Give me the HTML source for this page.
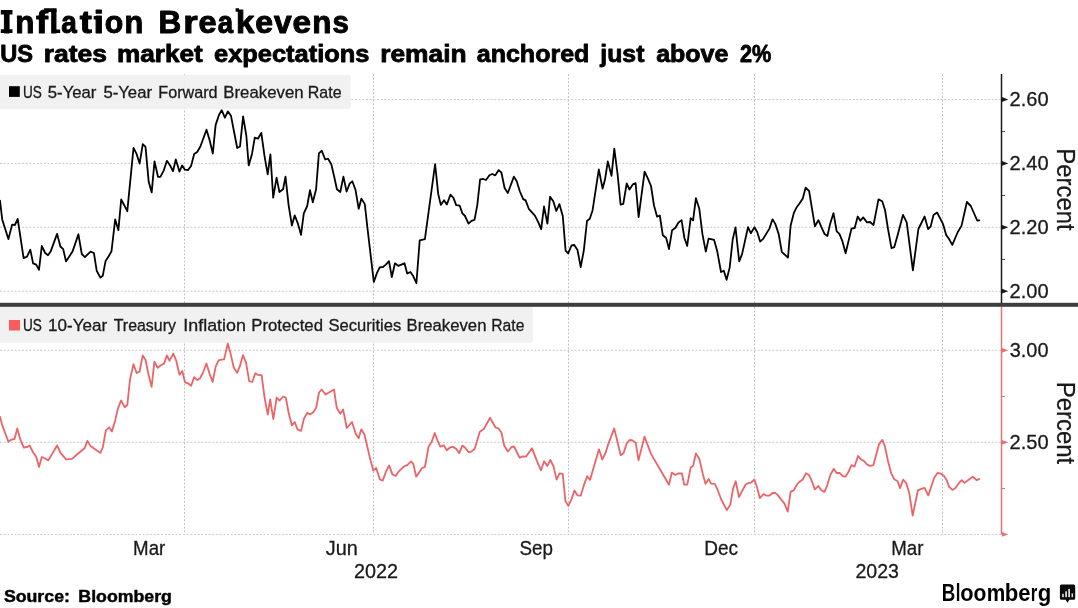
<!DOCTYPE html>
<html><head><meta charset="utf-8">
<style>
html,body{margin:0;padding:0;background:#fff;}
body{width:1078px;height:608px;overflow:hidden;position:relative;font-family:"Liberation Sans",sans-serif;color:#000;}
svg{position:absolute;left:0;top:0;opacity:0.999;will-change:opacity;}
text{font-family:"Liberation Sans",sans-serif;}
</style></head>
<body>
<svg width="1078" height="608" viewBox="0 0 1078 608">
<!-- gridlines -->
<g stroke-width="1" fill="none">
<path stroke="#bfbfbf" stroke-dasharray="1.9 1.76" d="M184.5 74V303M373.5 74V303M568.5 74V303M754.5 74V303M942.5 74V303"/>
<path stroke="#bfbfbf" stroke-dasharray="1.9 1.76" d="M184.5 307V534M373.5 307V534M568.5 307V534M754.5 307V534M942.5 307V534"/>
<path stroke="#c9c9c9" stroke-dasharray="2 1.66" d="M0 99.5H1001M0 163.4H1001M0 227.3H1001M0 291.2H1001"/>
<path stroke="#c9c9c9" stroke-dasharray="2 1.66" d="M0 350.3H1001M0 442.3H1001M0 534.4H1001"/>
</g>
<!-- legends -->
<rect x="-4" y="74.8" width="354.8" height="34.3" rx="3" fill="#f0f0f0" fill-opacity="0.92"/>
<rect x="9" y="86.2" width="10.8" height="10.7" fill="#000"/>
<rect x="-4" y="306" width="536.8" height="36.8" rx="3" fill="#f0f0f0" fill-opacity="0.92"/>
<rect x="9" y="320" width="11" height="10.5" fill="#f85c5c"/>
<!-- separator -->
<rect x="0" y="302.8" width="1078" height="4" fill="#3e3e3e"/>
<!-- top axis -->
<g stroke="#1a1a1a" fill="#1a1a1a">
<path d="M1001.5 74V303" stroke-width="1.5" fill="none"/>
<path d="M1002 131.6H1005M1002 195.5H1005M1002 259.4H1005" stroke-width="1" stroke="#444" fill="none"/>
<path d="M1002 97.10L1008.3 99.50L1002 101.90ZM1002 161.00L1008.3 163.40L1002 165.80ZM1002 224.90L1008.3 227.30L1002 229.70ZM1002 288.80L1008.3 291.20L1002 293.60Z" stroke="none"/>
</g>
<!-- bottom axis -->
<g stroke="#e6717a" fill="#e6717a">
<path d="M1001.5 307V534.5" stroke-width="1.5" fill="none"/>
<path d="M1002 396.5H1005M1002 488.5H1005" stroke-width="1" fill="none"/>
<path d="M1002 347.90L1008.3 350.30L1002 352.70ZM1002 439.90L1008.3 442.30L1002 444.70ZM1002 532.00L1008.3 534.40L1002 536.80Z" stroke="none"/>
</g>
<!-- TEXT -->
<g id="title" stroke="#000" stroke-width="1.0" stroke-linejoin="round">
<text transform="translate(2.32,32.70) scale(1.0088,1)" font-size="32" font-weight="bold" fill="#000">I</text>
<text transform="translate(15.16,32.70) scale(0.9794,1)" font-size="32" font-weight="bold" fill="#000">n</text>
<text transform="translate(36.07,32.70) scale(1.1220,1)" font-size="32" font-weight="bold" fill="#000">f</text>
<text transform="translate(49.61,32.70) scale(0.9773,1)" font-size="32" font-weight="bold" fill="#000">l</text>
<text transform="translate(61.26,32.70) scale(0.8744,1)" font-size="32" font-weight="bold" fill="#000">a</text>
<text transform="translate(79.84,32.70) scale(1.1382,1)" font-size="32" font-weight="bold" fill="#000">t</text>
<text transform="translate(93.45,32.70) scale(1.1818,1)" font-size="32" font-weight="bold" fill="#000">i</text>
<text transform="translate(104.69,32.70) scale(0.9448,1)" font-size="32" font-weight="bold" fill="#000">o</text>
<text transform="translate(124.60,32.70) scale(0.9601,1)" font-size="32" font-weight="bold" fill="#000">n</text>
<text transform="translate(158.38,32.70) scale(0.9836,1)" font-size="32" font-weight="bold" fill="#000">B</text>
<text transform="translate(183.29,32.70) scale(1.1593,1)" font-size="32" font-weight="bold" fill="#000">r</text>
<text transform="translate(198.50,32.70) scale(1.0168,1)" font-size="32" font-weight="bold" fill="#000">e</text>
<text transform="translate(217.87,32.70) scale(0.8627,1)" font-size="32" font-weight="bold" fill="#000">a</text>
<text transform="translate(235.99,32.70) scale(1.0321,1)" font-size="32" font-weight="bold" fill="#000">k</text>
<text transform="translate(255.22,32.70) scale(1.0039,1)" font-size="32" font-weight="bold" fill="#000">e</text>
<text transform="translate(273.94,32.70) scale(0.9932,1)" font-size="32" font-weight="bold" fill="#000">v</text>
<text transform="translate(292.47,32.70) scale(1.0427,1)" font-size="32" font-weight="bold" fill="#000">e</text>
<text transform="translate(312.26,32.70) scale(0.9794,1)" font-size="32" font-weight="bold" fill="#000">n</text>
<text transform="translate(332.57,32.70) scale(0.9180,1)" font-size="32" font-weight="bold" fill="#000">s</text>
</g>
<path id="titlex" fill="#000" d="M0.8 10H12.5V14.5H0.8ZM0.8 29.3H12.5V33H0.8Z M44 8.3H56.6V12H44Z M56 29.6H60.2V33H53Z M93.7 16H97V19.6H93.7Z M235.6 8.3H239V11.8H235.6Z"/>
<g id="subtitle" stroke="#000" stroke-width="0.8" stroke-linejoin="round">
<text transform="translate(0.28,61.70) scale(1.0061,1)" font-size="23.5" font-weight="bold" fill="#000">US</text>
<text transform="translate(43.78,61.70) scale(1.1267,1)" font-size="23.5" font-weight="bold" fill="#000">rates</text>
<text transform="translate(116.90,61.70) scale(1.1148,1)" font-size="23.5" font-weight="bold" fill="#000">market</text>
<text transform="translate(213.98,61.70) scale(1.0828,1)" font-size="23.5" font-weight="bold" fill="#000">expectations</text>
<text transform="translate(380.19,61.70) scale(1.1217,1)" font-size="23.5" font-weight="bold" fill="#000">remain</text>
<text transform="translate(476.75,61.70) scale(1.0646,1)" font-size="23.5" font-weight="bold" fill="#000">anchored</text>
<text transform="translate(600.37,61.70) scale(1.0543,1)" font-size="23.5" font-weight="bold" fill="#000">just</text>
<text transform="translate(656.15,61.70) scale(1.0625,1)" font-size="23.5" font-weight="bold" fill="#000">above</text>
<text transform="translate(740.04,61.70) scale(0.9234,1)" font-size="23.5" font-weight="bold" fill="#000">2%</text>
</g>
<g id="leg1" stroke="#1a1a1a" stroke-width="0.3">
<text transform="translate(22.90,97.80) scale(0.8346,1)" font-size="16.2909" fill="#1a1a1a">US</text>
<text transform="translate(47.78,97.80) scale(1.0277,1)" font-size="16.2909" fill="#1a1a1a">5-Year</text>
<text transform="translate(103.38,97.80) scale(1.0277,1)" font-size="16.2909" fill="#1a1a1a">5-Year</text>
<text transform="translate(158.32,97.80) scale(0.9933,1)" font-size="16.2909" fill="#1a1a1a">Forward</text>
<text transform="translate(223.26,97.80) scale(1.0322,1)" font-size="16.2909" fill="#1a1a1a">Breakeven</text>
<text transform="translate(307.73,97.80) scale(0.9834,1)" font-size="16.2909" fill="#1a1a1a">Rate</text>
</g><g id="leg2" stroke="#1a1a1a" stroke-width="0.3">
<text transform="translate(22.90,331.20) scale(0.8346,1)" font-size="16.2909" fill="#1a1a1a">US</text>
<text transform="translate(48.07,331.20) scale(1.0458,1)" font-size="16.2909" fill="#1a1a1a">10-Year</text>
<text transform="translate(113.69,331.20) scale(0.9787,1)" font-size="16.2909" fill="#1a1a1a">Treasury</text>
<text transform="translate(183.30,331.20) scale(1.0974,1)" font-size="16.2909" fill="#1a1a1a">Inflation</text>
<text transform="translate(251.27,331.20) scale(1.0288,1)" font-size="16.2909" fill="#1a1a1a">Protected</text>
<text transform="translate(328.50,331.20) scale(1.0183,1)" font-size="16.2909" fill="#1a1a1a">Securities</text>
<text transform="translate(406.57,331.20) scale(1.0256,1)" font-size="16.2909" fill="#1a1a1a">Breakeven</text>
<text transform="translate(491.25,331.20) scale(0.9648,1)" font-size="16.2909" fill="#1a1a1a">Rate</text>
</g>
<g id="ylab" stroke="#1a1a1a" stroke-width="0.3">
<text transform="translate(1009.50,106.40) scale(0.9528,1)" font-size="21.0753" fill="#1a1a1a">2.60</text>
<text transform="translate(1009.50,170.30) scale(0.9528,1)" font-size="21.0753" fill="#1a1a1a">2.40</text>
<text transform="translate(1009.50,234.20) scale(0.9528,1)" font-size="21.0753" fill="#1a1a1a">2.20</text>
<text transform="translate(1009.50,298.10) scale(0.9528,1)" font-size="21.0753" fill="#1a1a1a">2.00</text>
<text transform="translate(1009.75,357.20) scale(0.9464,1)" font-size="21.0753" fill="#1a1a1a">3.00</text>
<text transform="translate(1009.50,449.20) scale(0.9528,1)" font-size="21.0753" fill="#1a1a1a">2.50</text>
</g>
<g id="xlab" stroke="#1a1a1a" stroke-width="0.3">
<text transform="translate(133.06,555.40) scale(0.9320,1)" font-size="20.0727" fill="#1a1a1a">Mar</text>
<text transform="translate(325.70,555.40) scale(0.9899,1)" font-size="20.0727" fill="#1a1a1a">Jun</text>
<text transform="translate(519.55,555.40) scale(0.9360,1)" font-size="20.0727" fill="#1a1a1a">Sep</text>
<text transform="translate(704.23,555.40) scale(0.9471,1)" font-size="20.0727" fill="#1a1a1a">Dec</text>
<text transform="translate(891.26,555.40) scale(0.9320,1)" font-size="20.0727" fill="#1a1a1a">Mar</text>
<text transform="translate(354.01,578.20) scale(0.9389,1)" font-size="21.0753" fill="#1a1a1a">2022</text>
<text transform="translate(855.42,578.20) scale(0.9289,1)" font-size="21.0753" fill="#1a1a1a">2023</text>
</g>
<g id="pct" stroke="#1a1a1a" stroke-width="0.25">
<text transform="translate(1056.70,148.23) rotate(90) scale(0.9142,1)" font-size="26.1818" fill="#1a1a1a">Percent</text>
<text transform="translate(1056.70,381.72) rotate(90) scale(0.9153,1)" font-size="26.1818" fill="#1a1a1a">Percent</text>
</g>
<g id="foot" stroke="#000" stroke-width="0.45" stroke-linejoin="round">
<text transform="translate(3.89,601.70) scale(1.0519,1)" font-size="16.8727" font-weight="bold" fill="#000">Source:</text>
<text transform="translate(78.33,601.70) scale(1.0523,1)" font-size="16.8727" font-weight="bold" fill="#000">Bloomberg</text>
</g>
<g id="logo">
<text transform="translate(941.74,601.00) scale(0.7931,1)" font-size="23.5636" font-weight="bold" fill="#000">B</text>
<text transform="translate(955.73,601.00) scale(0.7099,1)" font-size="23.5636" font-weight="bold" fill="#000">l</text>
<text transform="translate(960.33,601.00) scale(0.9245,1)" font-size="23.5636" font-weight="bold" fill="#000">o</text>
<text transform="translate(973.56,601.00) scale(0.8926,1)" font-size="23.5636" font-weight="bold" fill="#000">o</text>
<text transform="translate(986.64,601.00) scale(0.8849,1)" font-size="23.5636" font-weight="bold" fill="#000">m</text>
<text transform="translate(1004.86,601.00) scale(0.9412,1)" font-size="23.5636" font-weight="bold" fill="#000">b</text>
<text transform="translate(1018.22,601.00) scale(0.9323,1)" font-size="23.5636" font-weight="bold" fill="#000">e</text>
<text transform="translate(1030.71,601.00) scale(0.7119,1)" font-size="23.5636" font-weight="bold" fill="#000">r</text>
<text transform="translate(1037.71,601.00) scale(0.9412,1)" font-size="23.5636" font-weight="bold" fill="#000">g</text>
</g>
<!-- Bloomberg icon -->
<g id="bicon">
<path d="M1061.4 584.6H1073.7Q1075.2 584.6 1075.2 586.1V598.3Q1075.2 599.8 1073.7 599.8H1069.4L1067.5 602.8L1065.6 599.8H1061.4Q1059.9 599.8 1059.9 598.3V586.1Q1059.9 584.6 1061.4 584.6Z" fill="#0a0a0a"/>
<g fill="#d8d8d8"><rect x="1062.1" y="593.8" width="1.7" height="3.4"/><rect x="1065.2" y="591.3" width="1.8" height="5.9"/><rect x="1068.2" y="589" width="1.8" height="8.2"/><rect x="1071.5" y="593.4" width="1.6" height="3.8"/></g>
</g>
<!-- LINES -->
<path id="ltop" d="M0 200.6 L2.2 219.4 L8.4 239.1 L12.1 224.6 L14.9 225 L17.7 219 L23.6 258.1 L27 256.6 L30.3 249.7 L33.1 263.3 L36.2 264.6 L39 269.8 L41.8 246 L45.2 253 L48 255.3 L50.6 251.6 L57.1 233.9 L60.4 246.5 L63.2 249.1 L66 261.4 L72.5 251.6 L78.4 234.3 L81.8 254 L84.9 257.1 L90.5 251.6 L93.9 253 L96.7 270.7 L100.4 277.6 L102.8 275.7 L105.6 260.9 L108.7 256.2 L111.5 251.2 L115.2 219.4 L118.4 230.2 L121.2 199.5 L127.3 211.2 L133.5 148 L136.6 153.9 L139.6 163.6 L142.8 144.2 L145.5 146.8 L148.7 181.8 L151.7 192.4 L154.5 161.3 L158 176.8 L160.4 176.8 L163.8 170.3 L166.9 160.8 L170.1 165.4 L173 171.2 L175.8 159.5 L179.4 171.6 L182.2 165.4 L184.9 169.7 L187.9 170.1 L191.1 166 L194.2 153.9 L197.2 152 L200.4 146.5 L206.5 129.7 L209.7 140.5 L212.8 153.5 L215.6 125.1 L219 114.9 L221.7 110.2 L224.9 117.7 L227.9 111.5 L231 115.8 L234.2 132.5 L237.2 148 L240 146.5 L243.1 116.4 L246.3 135.3 L248.7 165.4 L252 153.9 L254.8 137.7 L258 138.7 L261.3 132.9 L264.5 155.8 L267.7 174.3 L270.4 154.3 L273.2 197.6 L276.6 177.7 L279.4 192 L283.1 189.2 L285.5 176.6 L288.6 205.1 L291.9 225.5 L294.7 215.3 L297.9 223.6 L301 234.8 L303.8 213.4 L307.2 206 L310 190.2 L312.8 202.3 L316.1 189.3 L318.9 153.4 L321.7 150.6 L325.2 159.5 L328 158.6 L331.3 164.2 L334.1 176.2 L336.9 189.3 L340.3 192 L343.4 176.6 L346.6 191.5 L349.6 183.7 L352.3 181.3 L355.5 189.8 L358.7 208.8 L361.4 198.6 L364.8 204.1 L367.7 230.2 L373.8 281.9 L377 272.9 L379.7 267.4 L382.9 267 L385.9 264.6 L389 261.2 L391.8 277 L395 263.3 L398.3 265.9 L404.5 263.3 L407.2 273.5 L410.4 272 L413.2 276.1 L416.4 283.2 L419.7 240.4 L424.9 239.1 L435.1 164.2 L438.2 193.9 L440.8 204.9 L444 200.2 L446.8 204.6 L450.4 194.7 L453.3 197.7 L456.2 205.1 L459.7 205.7 L462.4 213.4 L465 216 L468.5 223.6 L471.5 220.9 L474.5 219.9 L477.3 205.1 L480.1 179.4 L483.2 179 L486 180 L489.4 175.3 L492.2 174 L495.3 175.3 L498.7 170.1 L501.4 172.5 L504.6 188 L507.8 193 L513.9 176.6 L516.7 181.3 L519.9 191.5 L523.2 199.1 L525.6 200.4 L528.8 208.8 L534.9 215.7 L538.1 221.8 L541.2 229.2 L544 206.5 L547.4 223.6 L550.1 196.7 L553.3 201.3 L556.3 211 L559.4 204.1 L562.8 216.2 L565.6 250.6 L568.2 253.3 L571.5 245.5 L574.3 245 L577.5 250 L580.7 267 L583.8 250.6 L587 221 L589.8 218.7 L592.6 210.2 L598.8 169.4 L602.6 188.6 L605 179.6 L607.8 161.4 L611.5 175.9 L614.3 148.7 L617.6 174.4 L620.6 204.6 L623.3 203.8 L626.7 183.5 L629.5 189.5 L632.8 184.4 L635.6 183.2 L638.6 217.1 L644.6 171.6 L647.7 178.1 L651 186 L654 205.5 L657.1 216.7 L659.8 215.5 L662.8 235.2 L666.2 238 L669 249.1 L672.1 230.2 L675.5 227.8 L678.3 222.8 L681.6 220.3 L684.4 238 L687.2 246 L690.7 218.1 L693.1 220.3 L695.9 198.2 L699.3 208.8 L702.4 233.9 L705.8 251.6 L708.6 238.6 L714.1 239.9 L717.3 251.6 L721 272 L723.8 270.7 L726.6 279.8 L729.7 267.4 L732.7 239.5 L735.5 227.4 L739.2 261.4 L742 254.4 L748 227.2 L750.8 233.2 L754.5 227.2 L757.3 232.3 L760.1 241.6 L763.2 238.8 L769.4 228.6 L772.5 219.3 L775.3 223.9 L778.7 234.1 L781.8 251.8 L788 257.7 L790.6 225.8 L793.9 212.8 L796.7 207.2 L799.5 203.5 L802.8 198.4 L805.6 187.7 L809.1 191 L811.9 208.1 L814.9 226.3 L818.4 220.2 L821.2 226.7 L824.6 234.1 L827.4 236 L830.1 223.9 L833.5 213.1 L836.7 231.3 L839.4 233.8 L842.2 240.6 L845.6 253.3 L851.5 228.6 L854.7 228 L857.7 216.5 L860.4 220.7 L863.2 217.4 L867 222.4 L870.1 222 L873.5 225.2 L878.5 199.4 L882.2 201.2 L885 210 L888.1 229.5 L891.5 248.1 L894.3 247.1 L897.4 236 L903 214.8 L906.7 222.4 L912.9 270.4 L918.4 229 L924.6 216.5 L928.1 229.1 L930.7 226.4 L933.5 215 L937.1 212.5 L943.1 224.2 L946.2 235.1 L948.9 238.7 L952.3 244.9 L957.8 232 L961.5 225.9 L966.9 202 L970.8 206 L977.2 220.5 L979.4 220.3" fill="none" stroke="#000" stroke-width="1.8" stroke-linejoin="round" stroke-linecap="round"/>
<path id="lbot" d="M0 416.7 L2.2 425.1 L8.4 441.8 L11.5 439.6 L14.5 439 L17.3 428.4 L20.4 439.9 L23.8 447.7 L27 447 L29.7 445.5 L33.1 452.4 L36.2 456.7 L39 466.9 L41.8 457 L45.2 458.5 L48.3 460.4 L57.1 445.5 L60.4 452.6 L66 459.4 L72.1 458.9 L78.1 453.5 L84.6 448.3 L87.4 440.9 L90.5 445.9 L100.4 452.9 L102.8 447.4 L105.9 430.3 L109.1 427.3 L111.9 431.6 L115.2 420.4 L118 408.3 L121.1 400.4 L124.7 407.2 L127.3 405 L130 379.4 L133.5 364.2 L136.6 373 L139.6 371.7 L142.7 355.5 L145.5 359.7 L148.4 373.7 L151.6 386.8 L154.4 361.7 L157.7 367.7 L160.9 365.3 L164.2 363.4 L166.8 355.5 L169.6 360.7 L173.3 353.6 L176.1 360.3 L179.5 374.7 L182.3 371 L185 382.4 L187.9 383.3 L191.2 385.8 L194.1 377.1 L197.2 380.1 L199.9 378.5 L203.3 371.8 L206.4 363.5 L209.6 373.7 L212.6 382 L215.7 366.6 L218.5 360.3 L221.3 359.7 L224.1 359.4 L227.8 343.4 L230.6 353.6 L233.8 367.7 L237.1 372.8 L239.9 366.2 L243 355.1 L246 362.5 L249.2 381.1 L252.3 382 L255.3 373.3 L258.5 375.2 L261.6 375.2 L264.6 397.8 L267.8 414.6 L270.2 399.3 L273.3 419.2 L276.7 397.5 L279.5 400.6 L283.2 396.5 L285.8 397.5 L288.8 413.6 L291.9 425.4 L294.7 422 L297.5 429.4 L301.1 430.9 L303.9 418.7 L307.2 412.9 L310.1 414.4 L313.2 412.3 L316.2 407.8 L319 392.5 L321.7 389.5 L325.5 394.5 L334 389.5 L336.8 408.1 L340.3 413.7 L343.1 409.4 L346.8 428 L352 422 L355.8 434.1 L358.6 438.2 L361.3 429.3 L364.5 434.5 L367.5 447.5 L370.3 459.6 L373.4 470.7 L376.2 467.9 L379.9 479.5 L382.7 480.6 L385.9 471.7 L389.2 465.5 L392.4 474.4 L395.7 475.9 L398.5 471.7 L404.1 466.4 L407.2 465.1 L411 461.4 L413.4 464.2 L416.2 476.7 L422.1 467.9 L424.9 467 L428.6 446.6 L431.6 441.9 L434.8 433 L437.5 440.4 L440.3 446.6 L443.7 445.3 L446.8 450.3 L450 447.5 L452.8 446.9 L456.1 448.8 L459.3 453.1 L462.3 445.6 L464.9 447.5 L468.6 452.1 L471.4 451.6 L474.7 448.8 L479.8 431.8 L483.8 429 L490.1 417.7 L495.5 427.5 L498.3 428.3 L501.4 432.5 L504.2 445.5 L507.9 451.5 L511.6 447 L514 446.5 L519.6 457.6 L522.8 456.3 L525.9 456.7 L532 448.3 L538.2 464.1 L541 470.3 L544.1 461.3 L547.3 466 L550.3 459.9 L553.4 466 L556.6 479.6 L559.6 473.4 L562.7 473.8 L565.5 501.3 L568.3 505.9 L571.6 499.1 L574.4 490.5 L577.6 495.4 L580.7 495.7 L584.1 484.6 L587.2 476.2 L590 479.9 L599 449.3 L602.3 459.5 L605.5 453 L608.3 444.1 L614.2 428.4 L620.7 455.2 L623.5 453.3 L626.8 443.3 L629.6 440 L632.4 440.5 L635.8 442.8 L638.5 460.4 L644.5 436.6 L651 453.9 L664 476.2 L669 484.8 L671.8 472.6 L675.3 475 L678.2 473.5 L681.9 473.3 L684.2 484.7 L687.3 484.7 L690.7 467.4 L693.1 465.9 L695.9 453.5 L699.4 459 L702.8 473.9 L705.5 483.8 L708.7 478.9 L711.1 483.6 L714.8 483.8 L717.6 489.7 L721 499 L726.9 510.1 L730.3 504.6 L733 488.8 L735.7 481.3 L739 497.1 L741.8 491.6 L745.5 484.7 L747.9 483.2 L751.1 482.6 L754.4 479.5 L757 487.3 L759.8 498.1 L763.5 494 L766.5 495.7 L769.3 495.7 L772.5 493 L775.2 492.9 L777.7 494.9 L781.4 499.9 L784.5 503.6 L787.7 511.6 L790.7 491.6 L793.8 490.3 L797 484.5 L799.4 481.9 L802.8 479.5 L805.9 473.3 L808.7 474.8 L811.1 479.1 L814.8 489.3 L818.4 486 L821.3 490.3 L824.5 491.9 L827.3 485.1 L830.4 474.8 L833.8 468.7 L836.6 473 L839.6 472.8 L842.7 476.2 L845.5 476.7 L848.4 472.1 L851.5 465.1 L854.5 466.5 L858.1 456 L860.8 459.2 L863.5 460.7 L867.2 464.7 L870.1 465.8 L873.4 465.1 L879 444.3 L882.3 439.9 L885 446.6 L887.9 460.7 L891.2 473.3 L894.2 479.2 L897.4 481 L900.1 488.1 L903.1 479.7 L906.3 483.2 L909.3 493.3 L912.7 515.6 L917.9 490.3 L921.3 488.9 L924.6 487.8 L928.3 495.5 L934.2 477.7 L937.5 473 L940.9 473.7 L943.9 475.8 L946.6 479.9 L949.1 486.9 L952.5 489.9 L955.5 488.1 L958.7 483.4 L961.7 480.2 L964.4 482.9 L972.8 476.7 L976.8 480.2 L979.2 478.9" fill="none" stroke="#ea6468" stroke-width="1.8" stroke-linejoin="round" stroke-linecap="round"/>
</svg>
</body></html>
